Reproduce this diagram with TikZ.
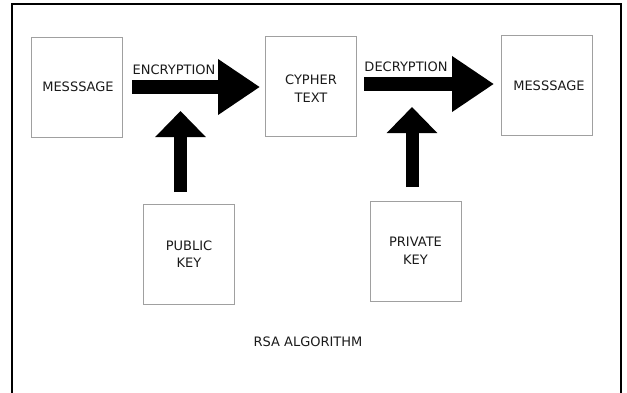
\documentclass[tikz,border=0pt]{standalone}
\usepackage{fontspec}
\setmainfont{DejaVu Sans}
\usetikzlibrary{arrows.meta}
\definecolor{boxgray}{HTML}{A0A0A0}
\definecolor{txt}{HTML}{1A1A1A}
\tikzset{
  box/.style={draw=boxgray, line width=1pt, minimum width=91pt, minimum height=100pt, inner sep=0pt},
  lbl/.style={text=txt, font=\fontsize{13pt}{17.5pt}\selectfont, align=center, inner sep=0pt},
  fatarrow/.style={line width=14pt, -{Triangle[width=53pt, length=42pt]}},
  uparrow/.style={line width=13pt, -{Triangle[width=49pt, length=26pt]}}
}
\begin{document}
\begin{tikzpicture}[x=1pt, y=-1pt]
\useasboundingbox (0,0) rectangle (627,392);
\draw[line width=2pt] (12,400) -- (12,4) -- (621,4) -- (621,400);
% boxes
\node[box] (msg1) at (76.5,87) {};
\node[box] (cypher) at (310.5,86) {};
\node[box] (msg2) at (546.5,85.5) {};
\node[box] (pub) at (189,254) {};
\node[box] (priv) at (416,251) {};
% texts
\node[lbl] (t1) at (78,87) {MESSSAGE};
\node[lbl] (t2) at (311,88.5) {CYPHER\\TEXT};
\node[lbl] (t3) at (549,86) {MESSSAGE};
\node[lbl] (t4) at (189,254) {PUBLIC\\KEY};
\node[lbl] (t5) at (415.5,251) {PRIVATE\\KEY};
\node[lbl] (enc) at (174,70) {ENCRYPTION};
\node[lbl] (dec) at (406,67) {DECRYPTION};
\node[lbl] (rsa) at (308,342) {RSA ALGORITHM};
% arrow ends
\coordinate (e1) at (132,87);
\coordinate (e2) at (260,87);
\coordinate (d1) at (364,84);
\coordinate (d2) at (494,84);
\coordinate (u1) at (180.5,192);
\coordinate (u2) at (180.5,111);
\coordinate (v1) at (412,187);
\coordinate (v2) at (412,107);
\draw[fatarrow] (e1) -- (e2);
\draw[fatarrow] (d1) -- (d2);
\draw[uparrow] (u1) -- (u2);
\draw[uparrow] (v1) -- (v2);
\end{tikzpicture}
\end{document}
